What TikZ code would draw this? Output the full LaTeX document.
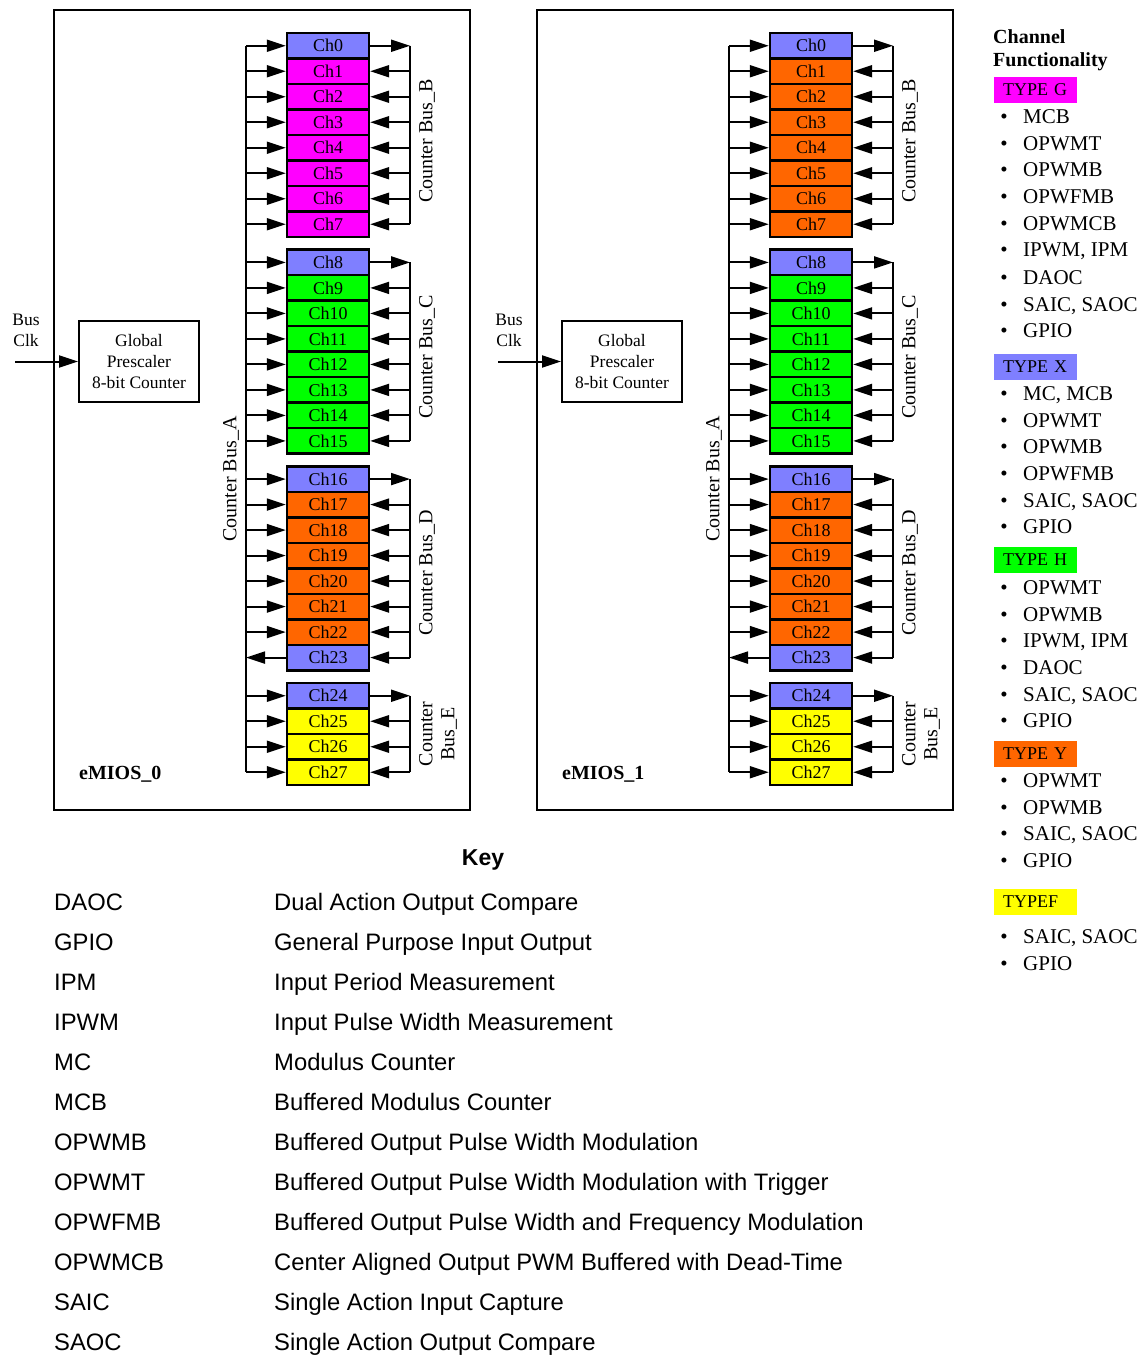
\documentclass[tikz,border=0pt]{standalone}
\usepackage{fontspec}
\setmainfont{Liberation Serif}
\newfontfamily\keyfont{Liberation Sans}
\usetikzlibrary{arrows.meta}
\definecolor{cX}{HTML}{7F7FFF}
\definecolor{cG}{HTML}{FF00FF}
\definecolor{cH}{HTML}{00FF00}
\definecolor{cY}{HTML}{FF6600}
\definecolor{cF}{HTML}{FFFF00}
\frenchspacing
\newcommand\litem[3]{\node[bul] (b#1) at (1004,#2+7) {•};\node[itm] (t#1) at (1023,#2+7) {#3};}
\newcommand\keyrow[4]{\node[keyt] (k#1) at (54,#2+8.5) {#3};\node[keyt] (d#1) at (274,#2+8.5) {#4};}
\begin{document}
\begin{tikzpicture}[x=1pt,y=-1pt,
  chan/.style={draw, line width=2.4pt, minimum width=82pt, minimum height=25.5pt, inner sep=0pt, font=\fontsize{18}{20}\selectfont},
  arr/.style={line width=2pt, -{Triangle[length=19pt,width=12pt]}},
  bus/.style={line width=2pt},
  buslbl/.style={rotate=90, font=\fontsize{20}{22}\selectfont, align=center, inner sep=0pt},
  gp/.style={draw, line width=2pt, minimum width=120pt, minimum height=81pt, align=center, font=\fontsize{17.5}{21}\selectfont},
  small/.style={align=center, font=\fontsize{17.5}{21}\selectfont},
  modlbl/.style={anchor=west, font=\fontsize{20}{22}\selectfont\bfseries, inner sep=0pt},
  ttl/.style={anchor=base west, font=\fontsize{20}{22}\selectfont\bfseries, inner sep=0pt},
  typebox/.style={minimum height=26pt, inner xsep=9pt, inner ysep=0pt, text width=65pt, align=left, font=\fontsize{18}{20}\selectfont},
  bul/.style={anchor=base, inner sep=0pt, font=\fontsize{21}{23}\selectfont},
  itm/.style={anchor=base west, inner sep=0pt, font=\fontsize{21}{23}\selectfont},
  keyt/.style={anchor=base west, inner sep=0pt, font=\keyfont\fontsize{23.8}{26}\selectfont},
]
\useasboundingbox (0,0) rectangle (1145,1356);
\foreach \m/\ox/\tb in {0/0/cG,1/483/cY}{
  \draw[line width=2pt] (54+\ox,10) rectangle (470+\ox,810);
  \foreach \i in {0,...,27}{
    \pgfmathtruncatemacro\g{int(\i/8)}
    \pgfmathtruncatemacro\k{\i-8*\g}
    \pgfmathsetmacro\yc{33+216.67*\g+25.5*(\k+0.5)}
    \ifnum\k=0 \def\cc{cX}\else
      \ifnum\i=23 \def\cc{cX}\else
        \ifcase\g \edef\cc{\tb}\or \def\cc{cH}\or \def\cc{cY}\or \def\cc{cF}\fi
      \fi
    \fi
    \node[chan, fill=\cc] (m\m c\i) at (328+\ox,\yc) {\raisebox{-1pt}{Ch\i}};
    \coordinate (m\m a\i) at (246+\ox,\yc);
    \coordinate (m\m b\i) at (410+\ox,\yc);
    \ifnum\i=23
      \draw[arr] (m\m c\i.west) -- (m\m a\i);
    \else
      \draw[arr] (m\m a\i) -- (m\m c\i.west);
    \fi
    \ifnum\k=0
      \draw[arr] (m\m c\i.east) -- (m\m b\i);
    \else
      \draw[arr] (m\m b\i) -- (m\m c\i.east);
    \fi
  }
  \draw[bus] (m\m a0) -- (m\m a27);
  \draw[bus] (m\m b0) -- (m\m b7);
  \draw[bus] (m\m b8) -- (m\m b15);
  \draw[bus] (m\m b16) -- (m\m b23);
  \draw[bus] (m\m b24) -- (m\m b27);
  \node[buslbl] (m\m la) at (231+\ox,479) {Counter Bus\_A};
  \node[buslbl] (m\m lb) at (427+\ox,141) {Counter Bus\_B};
  \node[buslbl] (m\m lc) at (427+\ox,357) {Counter Bus\_C};
  \node[buslbl] (m\m ld) at (427+\ox,573) {Counter Bus\_D};
  \node[buslbl] (m\m le) at (438+\ox,734) {Counter\\Bus\_E};
  \node[gp] (m\m gp) at (139+\ox,361.5) {Global\\Prescaler\\8-bit Counter};
  \node[small] (m\m bc) at (26+\ox,330) {Bus\\Clk};
  \coordinate (m\m clk) at (15+\ox,361.5);
  \draw[arr] (m\m clk) -- (m\m gp.west);
  \node[modlbl] (m\m name) at (79+\ox,774) {eMIOS\_\m};
}
% legend
\node[ttl] (lt1) at (993,43.5) {Channel};
\node[ttl] (lt2) at (993,66.5) {Functionality};
\node[typebox, fill=cG] (tg) at (1035.5,90) {TYPE G};
\litem{g1}{117}{MCB}
\litem{g2}{144}{OPWMT}
\litem{g3}{170}{OPWMB}
\litem{g4}{197}{OPWFMB}
\litem{g5}{224}{OPWMCB}
\litem{g6}{250}{IPWM, IPM}
\litem{g7}{277}{DAOC}
\litem{g8}{304}{SAIC, SAOC}
\litem{g9}{330}{GPIO}
\node[typebox, fill=cX] (tx) at (1035.5,367) {TYPE X};
\litem{x1}{393}{MC, MCB}
\litem{x2}{420}{OPWMT}
\litem{x3}{446}{OPWMB}
\litem{x4}{473}{OPWFMB}
\litem{x5}{500}{SAIC, SAOC}
\litem{x6}{526}{GPIO}
\node[typebox, fill=cH] (th) at (1035.5,560) {TYPE H};
\litem{h1}{587}{OPWMT}
\litem{h2}{614}{OPWMB}
\litem{h3}{640}{IPWM, IPM}
\litem{h4}{667}{DAOC}
\litem{h5}{694}{SAIC, SAOC}
\litem{h6}{720}{GPIO}
\node[typebox, fill=cY] (ty) at (1035.5,754) {TYPE Y};
\litem{y1}{780}{OPWMT}
\litem{y2}{807}{OPWMB}
\litem{y3}{833}{SAIC, SAOC}
\litem{y4}{860}{GPIO}
\node[typebox, fill=cF] (tf) at (1035.5,902) {TYPEF};
\litem{f1}{936}{SAIC, SAOC}
\litem{f2}{963}{GPIO}
% key
\node[anchor=base, inner sep=0pt, font=\keyfont\fontsize{23}{26}\selectfont\bfseries] (key) at (483,865) {Key};
\keyrow{1}{902}{DAOC}{Dual Action Output Compare}
\keyrow{2}{942}{GPIO}{General Purpose Input Output}
\keyrow{3}{982}{IPM}{Input Period Measurement}
\keyrow{4}{1022}{IPWM}{Input Pulse Width Measurement}
\keyrow{5}{1062}{MC}{Modulus Counter}
\keyrow{6}{1102}{MCB}{Buffered Modulus Counter}
\keyrow{7}{1142}{OPWMB}{Buffered Output Pulse Width Modulation}
\keyrow{8}{1182}{OPWMT}{Buffered Output Pulse Width Modulation with Trigger}
\keyrow{9}{1222}{OPWFMB}{Buffered Output Pulse Width and Frequency Modulation}
\keyrow{10}{1262}{OPWMCB}{Center Aligned Output PWM Buffered with Dead-Time}
\keyrow{11}{1302}{SAIC}{Single Action Input Capture}
\keyrow{12}{1342}{SAOC}{Single Action Output Compare}
\end{tikzpicture}
\end{document}
